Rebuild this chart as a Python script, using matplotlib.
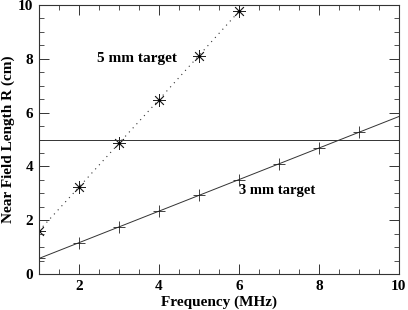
import numpy as np
import matplotlib
matplotlib.use("Agg")
import matplotlib.pyplot as plt
from matplotlib.ticker import MultipleLocator

freq5 = [1, 2, 3, 4, 5, 6]
r5 = [1.61, 3.23, 4.86, 6.48, 8.12, 9.76]
freq3 = [1, 2, 3, 4, 5, 6, 7, 8, 9]
r3 = [0.58, 1.16, 1.76, 2.34, 2.92, 3.50, 4.10, 4.68, 5.27]
fit_x = [1, 10]
ref_level = 5.0

plt.rcParams['font.family'] = ['Liberation Serif', 'DejaVu Serif']
plt.rcParams['font.weight'] = 'bold'

fig = plt.figure(figsize=(4.08, 3.10), dpi=100)
ax = fig.add_axes([0.0956, 0.116, 0.882, 0.868])

fs = 11
c = '#333333'
ax.plot(freq5, r5, linestyle=(0, (1, 4)), color=c, lw=0.8, marker=(8, 2, 0),
        ms=9, mew=0.6, mec='#222222')
ax.plot(freq5, r5, linestyle='none', marker='.', ms=2, color='black')
coef = np.polyfit(freq3, r3, 1)
fx = np.array(fit_x, dtype=float)
ax.plot(fx, np.polyval(coef, fx), '-', color=c, lw=0.7)
ax.plot(freq3, r3, linestyle='none', marker='+', ms=8.5, mew=0.6, color='#222222')
ax.axhline(ref_level, color=c, lw=0.7)

ax.text(2.45, 8.0, '5 mm target', fontsize=fs, fontweight='bold', va='center', ha='left')
ax.text(6.0, 3.12, '3 mm target', fontsize=10.5, fontweight='bold', va='center', ha='left')

ax.set_xlim(1, 10)
ax.set_ylim(0, 10)
ax.xaxis.set_major_locator(MultipleLocator(2))
ax.xaxis.set_minor_locator(MultipleLocator(0.5))
ax.yaxis.set_major_locator(MultipleLocator(2))
ax.yaxis.set_minor_locator(MultipleLocator(0.5))
ax.tick_params(which='both', direction='in', top=True, right=True, labelsize=fs, color=c)
ax.tick_params(which='major', length=7, width=0.7, pad=4)
ax.tick_params(which='minor', length=3.5, width=0.6)
for s in ax.spines.values():
    s.set_linewidth(0.8)
    s.set_color(c)
ax.set_xticks([2, 4, 6, 8, 10])
ax.set_yticks([0, 2, 4, 6, 8, 10])
for lab in ax.get_xticklabels() + ax.get_yticklabels():
    lab.set_fontweight('bold')
ax.set_xlabel('Frequency (MHz)', fontsize=fs, fontweight='bold', labelpad=2)
ax.set_ylabel('Near Field Length R (cm)', fontsize=fs, fontweight='bold', labelpad=2)

fig.savefig('out.png', dpi=100)
